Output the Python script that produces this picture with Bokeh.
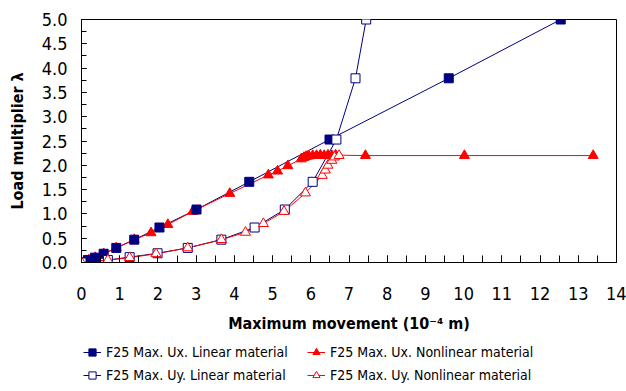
from bokeh.plotting import figure
from bokeh.layouts import column
from bokeh.models import Range1d, SingleIntervalTicker, Legend, LegendItem, CustomJSTickFormatter
from bokeh.embed import file_html
from bokeh.resources import INLINE

# Data (x in 10^-4 m, y = load multiplier)
ux_lin_x = [0.0, 0.17, 0.35, 0.58, 0.91, 1.38, 2.04, 3.01, 4.39, 6.49, 9.61, 12.54]
ux_lin_y = [0.0, 0.05, 0.10, 0.18, 0.30, 0.47, 0.72, 1.09, 1.66, 2.53, 3.79, 5.0]

uy_lin_x = [0.0, 0.69, 1.26, 1.99, 2.78, 3.66, 4.53, 5.32, 6.05, 6.67, 7.17, 7.45]
uy_lin_y = [0.0, 0.05, 0.11, 0.19, 0.30, 0.47, 0.72, 1.09, 1.66, 2.53, 3.79, 5.0]

ux_nl_x = [0.0, 0.19, 0.36, 0.58, 0.91, 1.38, 1.82, 2.26, 2.91, 3.88, 4.89, 5.13, 5.40,
           5.75, 5.82, 5.88, 5.95, 6.05, 6.15, 6.25, 6.35, 6.45, 6.55, 6.65, 7.43, 10.02, 13.39]
ux_nl_y = [0.0, 0.05, 0.10, 0.18, 0.30, 0.47, 0.61, 0.78, 1.05, 1.42, 1.80, 1.88, 1.99,
           2.13, 2.16, 2.18, 2.19, 2.20, 2.20, 2.21, 2.20, 2.21, 2.20, 2.21, 2.20, 2.20, 2.20]

uy_nl_x = [0.0, 0.69, 1.26, 1.95, 2.78, 3.66, 4.29, 4.76, 5.30, 5.86, 6.30, 6.38, 6.45, 6.55, 6.62, 6.74]
uy_nl_y = [0.0, 0.05, 0.10, 0.18, 0.30, 0.47, 0.62, 0.80, 1.05, 1.43, 1.79, 1.90, 2.00, 2.10, 2.17, 2.20]

labels = ["F25 Max. Ux. Linear material", "F25 Max. Uy. Linear material",
          "F25 Max. Ux. Nonlinear material", "F25 Max. Uy. Nonlinear material"]

NAVY = "#000080"
RED = "#ff0000"
FONT = "DejaVu Sans Condensed"

p = figure(width=626, height=340, output_backend="svg", toolbar_location=None,
           x_range=Range1d(0, 14), y_range=Range1d(0, 5),
           min_border_left=81, min_border_right=10, min_border_top=19, min_border_bottom=78)
p.xgrid.visible = False
p.ygrid.visible = False
p.outline_line_color = "black"
p.outline_line_width = 1

# Series
r1l = p.line(ux_lin_x, ux_lin_y, line_color=NAVY, line_width=1)
r2l = p.line(uy_lin_x, uy_lin_y, line_color=NAVY, line_width=1)
r3l = p.line(ux_nl_x, ux_nl_y, line_color=RED, line_width=1)
r4l = p.line(uy_nl_x, uy_nl_y, line_color=RED, line_width=1)
r3m = p.scatter(ux_nl_x, ux_nl_y, marker="triangle", size=10, fill_color=RED, line_color=RED)
r1m = p.scatter(ux_lin_x, ux_lin_y, marker="square", size=9, fill_color=NAVY, line_color=NAVY)
r2m = p.scatter(uy_lin_x, uy_lin_y, marker="square", size=9, fill_color="white", line_color=NAVY)
r4m = p.scatter(uy_nl_x, uy_nl_y, marker="triangle", size=10, fill_color="white", line_color=RED)

# Axes
p.xaxis.ticker = SingleIntervalTicker(interval=1, num_minor_ticks=2)
p.yaxis.ticker = SingleIntervalTicker(interval=0.5, num_minor_ticks=2)
p.yaxis.formatter = CustomJSTickFormatter(code="return tick.toFixed(1);")

for ax in (p.xaxis[0], p.yaxis[0]):
    ax.axis_line_color = "black"
    ax.major_tick_in = 7
    ax.major_tick_out = 0
    ax.minor_tick_in = 7
    ax.minor_tick_out = 0
    ax.major_tick_line_color = "black"
    ax.minor_tick_line_color = "black"
    ax.major_label_text_font = FONT
    ax.major_label_text_font_size = "18px"
    ax.major_label_text_color = "black"
    ax.axis_label_text_font = FONT
    ax.axis_label_text_font_style = "bold"
    ax.axis_label_text_font_size = "16px"
    ax.axis_label_text_color = "black"

p.yaxis.minor_tick_in = 5
p.yaxis.major_tick_in = 5
p.xaxis.major_label_standoff = 24
p.yaxis.major_label_standoff = 14
p.xaxis.axis_label = "Maximum movement (10\u207b\u2074 m)"
p.yaxis.axis_label = "Load multiplier \u03bb"
p.xaxis.axis_label_standoff = 11
p.yaxis.axis_label_standoff = 12

# Legend strip below the chart (its frame is aligned with the chart frame)
q = figure(width=626, height=51, output_backend="svg", toolbar_location=None,
           x_axis_type=None, y_axis_type=None, x_range=Range1d(0, 1), y_range=Range1d(0, 1),
           min_border_left=0, min_border_right=0, min_border_top=0, min_border_bottom=0)
q.outline_line_color = None
q.xgrid.visible = False
q.ygrid.visible = False

off = [-10.0]
ql1 = q.line(off, off, line_color=NAVY, line_width=1)
qm1 = q.scatter(off, off, marker="square", size=7, fill_color=NAVY, line_color=NAVY)
ql2 = q.line(off, off, line_color=NAVY, line_width=1)
qm2 = q.scatter(off, off, marker="square", size=7, fill_color="white", line_color=NAVY)
ql3 = q.line(off, off, line_color=RED, line_width=1)
qm3 = q.scatter(off, off, marker="triangle", size=8, fill_color=RED, line_color=RED)
ql4 = q.line(off, off, line_color=RED, line_width=1)
qm4 = q.scatter(off, off, marker="triangle", size=8, fill_color="white", line_color=RED)

def make_legend(items, x):
    lg = Legend(items=items, location=(x, 6), orientation="vertical",
                border_line_color=None, background_fill_alpha=0,
                padding=0, margin=0, spacing=3,
                glyph_width=18, glyph_height=20, label_height=20,
                label_standoff=5,
                label_text_font=FONT, label_text_font_size="14px",
                label_text_color="black")
    q.add_layout(lg, "center")

make_legend([LegendItem(label=labels[0], renderers=[ql1, qm1]),
             LegendItem(label=labels[1], renderers=[ql2, qm2])], 2)
make_legend([LegendItem(label=labels[2], renderers=[ql3, qm3]),
             LegendItem(label=labels[3], renderers=[ql4, qm4])], 226)

layout = column(p, q, spacing=0)
open("out.html", "w").write(file_html(layout, INLINE))
